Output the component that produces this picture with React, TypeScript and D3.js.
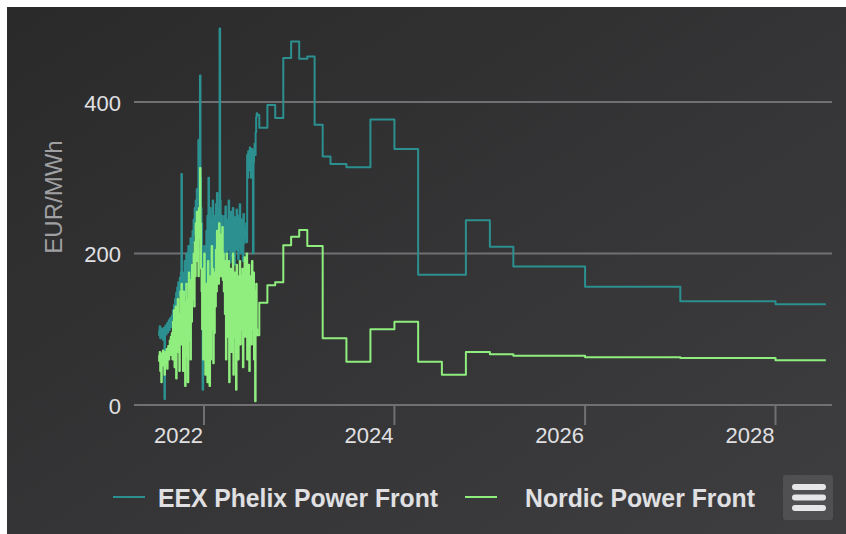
import React from "react";
import * as d3 from "d3";

// ---- Data ----
const historyStart = "2021-07-11";
const historyEnd = "2022-07-24";

const eexHistory = [
  98, 92, 104, 88, 96, 101, 90, 99, 86, 95, 102, 8, 97, 105, 93, 100, 108, 96, 104, 112, 99, 107, 115, 103, 110,
  118, 108, 125, 114, 132, 120, 140, 126, 148, 132, 155, 138, 162, 145, 150, 168, 155,
  175, 305, 170, 160,
  150, 175, 158, 190, 165, 145, 200, 172, 185, 155, 210, 178, 195, 165, 220, 185, 205, 190, 230,
  215, 245, 225, 260, 235, 270, 250, 285, 240, 275, 350, 265, 290, 435, 300, 260, 240,
  200, 20, 180, 150, 210, 140, 190, 160,
  230, 180, 250, 170, 300, 190, 150, 260, 210, 140, 245, 195, 270, 160, 230, 200, 250, 175, 265,
  240, 280, 220, 260, 255, 230, 497, 270, 240, 215, 250, 225, 210,
  235, 190, 250, 215, 262, 200, 228, 182, 245, 210, 270, 205, 230, 188, 255, 220, 240, 196, 260, 212,
  235, 185, 248, 225, 205, 258, 215, 238, 192, 250, 210, 265, 225, 200, 245, 218, 236, 190, 252, 214, 230, 222,
  225, 240, 215, 330, 300, 335, 320, 310, 340, 325, 300, 330, 338, 315, 200, 320, 335, 345, 330, 360, 380, 385, 383,
];

const nordicHistory = [
  66, 58, 70, 45, 64, 30, 68, 60, 72, 52, 66, 40, 70, 62, 55, 74, 48, 68, 78, 60, 72, 85, 66, 90, 80,
  95, 60, 110, 75, 125, 50, 100, 130, 35, 115, 85, 140, 70, 120, 45, 105, 150,
  80, 160, 95, 130,
  45, 150, 90, 135, 25, 110, 160, 65, 140, 30, 120, 175, 85, 150, 60, 165, 110, 185, 140,
  160, 200, 130, 215, 170, 240, 190, 255, 200, 230, 170, 260, 220, 313, 240, 180, 150,
  100, 180, 60, 150, 200, 90, 40, 140,
  160, 110, 30, 190, 80, 130, 25, 170, 60, 140, 210, 100, 180, 55, 150, 95, 175, 130, 205,
  150, 230, 175, 215, 160, 240, 195, 225, 170, 210, 185, 235, 165,
  200, 150, 190, 120, 180, 60, 200, 90, 170, 130, 190, 30, 160, 110, 180, 70, 150, 120, 200, 40,
  140, 175, 90, 160, 20, 185, 130, 170, 60, 150, 110, 190, 80, 170, 140, 100, 180, 50, 160, 120, 195, 90,
  175, 130, 200, 60, 160, 110, 185, 45, 150, 120, 170, 80, 190, 140, 100, 175, 60, 150, 5, 120, 160, 100, 92,
];

const forwardDates = [
  "2022-08-01", "2022-09-01", "2022-10-01", "2022-11-01", "2022-12-01",
  "2023-01-01", "2023-02-01", "2023-03-01", "2023-04-01", "2023-05-01",
  "2023-07-01", "2023-10-01", "2024-01-01", "2024-04-01", "2024-07-01",
  "2024-10-01", "2025-01-01", "2025-04-01", "2026-01-01", "2027-01-01",
  "2028-01-01", "2028-07-12",
];
const eexForward = [366, 396, 379, 458, 480, 457, 460, 370, 328, 318, 314, 377, 338, 172, 172, 244, 209, 183, 156, 137, 133, 133];
const nordicForward = [135, 158, 162, 211, 222, 231, 210, 210, 88, 88, 57, 100, 110, 57, 40, 70, 67, 65, 63, 62, 59, 59];

const yTicks = [0, 200, 400];
const xTickYears = [2022, 2024, 2026, 2028];

const seriesNames = ["EEX Phelix Power Front", "Nordic Power Front"];
const seriesColors = ["#2b908f", "#90ee7e"];

// ---- Helpers ----
type Pt = { d: Date; v: number };

function buildSeries(history: number[], forward: number[]): Pt[] {
  const s = new Date(historyStart).getTime();
  const e = new Date(historyEnd).getTime();
  const n = history.length;
  const pts: Pt[] = history.map((v, i) => ({
    d: new Date(s + ((e - s) * i) / (n - 1)),
    v,
  }));
  forward.forEach((v, i) => pts.push({ d: new Date(forwardDates[i]), v }));
  return pts;
}

export default function App() {
  const W = 846;
  const H = 534;
  const plotLeft = 134;
  const plotRight = 832;

  const x = d3
    .scaleTime()
    .domain([new Date("2022-01-01"), new Date("2028-01-01")])
    .range([204, 775.5]);
  const y = d3.scaleLinear().domain([0, 400]).range([405, 102]);

  const line = d3
    .line<Pt>()
    .x((p) => x(p.d))
    .y((p) => y(p.v))
    .curve(d3.curveStepAfter);

  const eex = buildSeries(eexHistory, eexForward);
  const nordic = buildSeries(nordicHistory, nordicForward);

  const font = "'Liberation Sans', Arial, Helvetica, sans-serif";

  return (
    <svg
      width={W}
      height={H}
      style={{ position: "absolute", left: 0, top: 0, display: "block" }}
    >
      <defs>
        <linearGradient id="bg" x1="0" y1="0" x2="1" y2="1">
          <stop offset="0" stopColor="#2a2a2b" />
          <stop offset="1" stopColor="#3e3e40" />
        </linearGradient>
      </defs>
      <rect x={0} y={0} width={W} height={H} fill="#ffffff" />
      <rect x={7} y={7} width={W - 7} height={H - 7} fill="url(#bg)" />

      {/* grid lines */}
      {yTicks.map((t) => (
        <line
          key={"g" + t}
          x1={plotLeft}
          x2={plotRight}
          y1={y(t)}
          y2={y(t)}
          stroke="#707073"
          strokeWidth={2}
        />
      ))}

      {/* y labels */}
      {yTicks.map((t) => (
        <text
          key={"yl" + t}
          x={121}
          y={y(t) + 8.5}
          textAnchor="end"
          fill="#E0E0E3"
          fontSize={22}
          fontFamily={font}
        >
          {t}
        </text>
      ))}

      {/* y title */}
      <text
        transform={`translate(62,197) rotate(-90)`}
        textAnchor="middle"
        fill="#A0A0A3"
        fontSize={24}
        fontFamily={font}
      >
        EUR/MWh
      </text>

      {/* x ticks and labels */}
      {xTickYears.map((yr) => {
        const xp = x(new Date(`${yr}-01-01`));
        return (
          <g key={"xt" + yr}>
            <line x1={xp} x2={xp} y1={405} y2={425} stroke="#707073" strokeWidth={2} />
            <text
              x={xp - 1}
              y={443}
              textAnchor="end"
              fill="#E0E0E3"
              fontSize={22}
              fontFamily={font}
            >
              {yr}
            </text>
          </g>
        );
      })}

      {/* series */}
      <path d={line(eex) || ""} fill="none" stroke={seriesColors[0]} strokeWidth={2} strokeLinejoin="round" />
      <path d={line(nordic) || ""} fill="none" stroke={seriesColors[1]} strokeWidth={2} strokeLinejoin="round" />

      {/* legend */}
      {[
        { lx: 113, tx: 158 },
        { lx: 465, tx: 525 },
      ].map((p, i) => (
        <g key={"lg" + i}>
          <line x1={p.lx} x2={p.lx + 32} y1={497} y2={497} stroke={seriesColors[i]} strokeWidth={2} />
          <text
            x={p.tx}
            y={507}
            fill="#E0E0E3"
            fontSize={25}
            fontWeight="bold"
            fontFamily={font}
            textLength={i === 0 ? 280 : 230}
            lengthAdjust="spacingAndGlyphs"
          >
            {seriesNames[i]}
          </text>
        </g>
      ))}

      {/* context menu button */}
      <rect x={783} y={475} width={50} height={45} rx={3} fill="#505053" />
      {[487, 497.5, 508].map((yy) => (
        <line
          key={"mb" + yy}
          x1={795}
          x2={823}
          y1={yy}
          y2={yy}
          stroke="#E6E6E8"
          strokeWidth={6}
          strokeLinecap="round"
        />
      ))}
    </svg>
  );
}
